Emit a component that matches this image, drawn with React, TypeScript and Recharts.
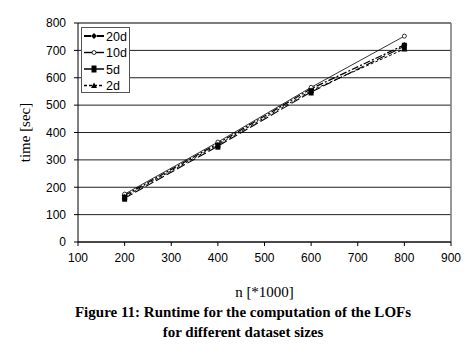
import React from "react";
import {
  LineChart,
  Line,
  XAxis,
  YAxis,
  CartesianGrid,
  ReferenceLine,
  Label,
} from "recharts";

const sizes = [200, 400, 600, 800];
const d20 = [170, 360, 560, 720];
const d10 = [175, 365, 565, 752];
const d5 = [160, 350, 548, 715];
const d2 = [165, 355, 553, 705];
const xTicks = [100, 200, 300, 400, 500, 600, 700, 800, 900];
const yTicks = [0, 100, 200, 300, 400, 500, 600, 700, 800];

const data = sizes.map((n, i) => ({ n, d20: d20[i], d10: d10[i], d5: d5[i], d2: d2[i] }));

const SANS = "'Liberation Sans', Arial, sans-serif";
const SERIF = "'Liberation Serif', 'Times New Roman', serif";

function Diamond({ cx, cy }: any) {
  if (cx == null || cy == null) return null;
  return <path d={`M${cx},${cy - 3}L${cx + 3},${cy}L${cx},${cy + 3}L${cx - 3},${cy}Z`} fill="#000" />;
}
function OpenCircle({ cx, cy }: any) {
  if (cx == null || cy == null) return null;
  return <circle cx={cx} cy={cy} r={2} fill="#fff" stroke="#000" strokeWidth={0.8} />;
}
function Square({ cx, cy }: any) {
  if (cx == null || cy == null) return null;
  return <rect x={cx - 2.5} y={cy - 3.5} width={5} height={7} fill="#000" />;
}
function Triangle({ cx, cy }: any) {
  if (cx == null || cy == null) return null;
  return <path d={`M${cx},${cy - 3}L${cx + 3},${cy + 2.5}L${cx - 3},${cy + 2.5}Z`} fill="#000" />;
}

const series = [
  { key: "d20", name: "20d", dash: "7 2 2 2", width: 1.3, Dot: Diamond },
  { key: "d10", name: "10d", dash: undefined, width: 0.8, Dot: OpenCircle },
  { key: "d5", name: "5d", dash: "9 3", width: 1.1, Dot: Square },
  { key: "d2", name: "2d", dash: "3 2", width: 1, Dot: Triangle },
];

function LegendBox() {
  return (
    <svg width={49} height={66} style={{ display: "block" }}>
      <rect x={0.5} y={0.5} width={48} height={65} fill="#fff" stroke="#555" />
      {series.map((s, i) => {
        const y = 9 + i * 16.5;
        const D = s.Dot;
        return (
          <g key={s.key}>
            <line x1={3} x2={23} y1={y} y2={y} stroke="#000" strokeWidth={s.width + 0.6} strokeDasharray={s.dash} />
            <D cx={13} cy={y} />
            <text x={25} y={y + 4.5} fontSize={12.5} fontFamily={SANS} fill="#000">
              {s.name}
            </text>
          </g>
        );
      })}
    </svg>
  );
}

export default function App() {
  return (
    <div style={{ position: "absolute", left: 0, top: 0, width: 474, height: 351, background: "#fff" }}>
      <LineChart width={474} height={351} data={data} margin={{ top: 23, right: 23, left: 28, bottom: 79 }}>
        <CartesianGrid horizontal vertical={false} stroke="#222" strokeWidth={1} />
        <XAxis
          dataKey="n"
          type="number"
          domain={[100, 900]}
          ticks={xTicks}
          height={30}
          stroke="#000"
          tickSize={4}
          tickMargin={7}
          tick={{ fontSize: 12, fontFamily: SANS, fill: "#000" }}
        >
          <Label value="n [*1000]" position="bottom" offset={14} style={{ fontSize: 15, fontFamily: SERIF, fill: "#000" }} />
        </XAxis>
        <YAxis
          type="number"
          domain={[0, 800]}
          ticks={yTicks}
          width={50}
          stroke="#000"
          tickSize={4}
          tickMargin={8}
          tick={{ fontSize: 12, fontFamily: SANS, fill: "#000" }}
        >
          <Label
            value="time [sec]"
            angle={-90}
            position="insideLeft"
            offset={-3}
            style={{ fontSize: 15, fontFamily: SERIF, fill: "#000", textAnchor: "middle" }}
          />
        </YAxis>
        <ReferenceLine x={900} stroke="#777" strokeWidth={1.5} />
        <ReferenceLine y={800} stroke="#777" strokeWidth={1.5} />
        {series.map((s) => (
          <Line
            key={s.key}
            dataKey={s.key}
            name={s.name}
            stroke="#000"
            strokeWidth={s.width}
            strokeDasharray={s.dash}
            dot={<s.Dot />}
            activeDot={false}
            isAnimationActive={false}
          />
        ))}
      </LineChart>
      <div style={{ position: "absolute", left: 81, top: 27 }}>
        <LegendBox />
      </div>
      <div
        style={{
          position: "absolute",
          left: 0,
          width: 486,
          top: 302,
          textAlign: "center",
          fontFamily: SERIF,
          fontWeight: "bold",
          fontSize: 15,
          lineHeight: "20px",
          color: "#000",
        }}
      >
        Figure 11: Runtime for the computation of the LOFs
        <br />
        for different dataset sizes
      </div>
    </div>
  );
}
